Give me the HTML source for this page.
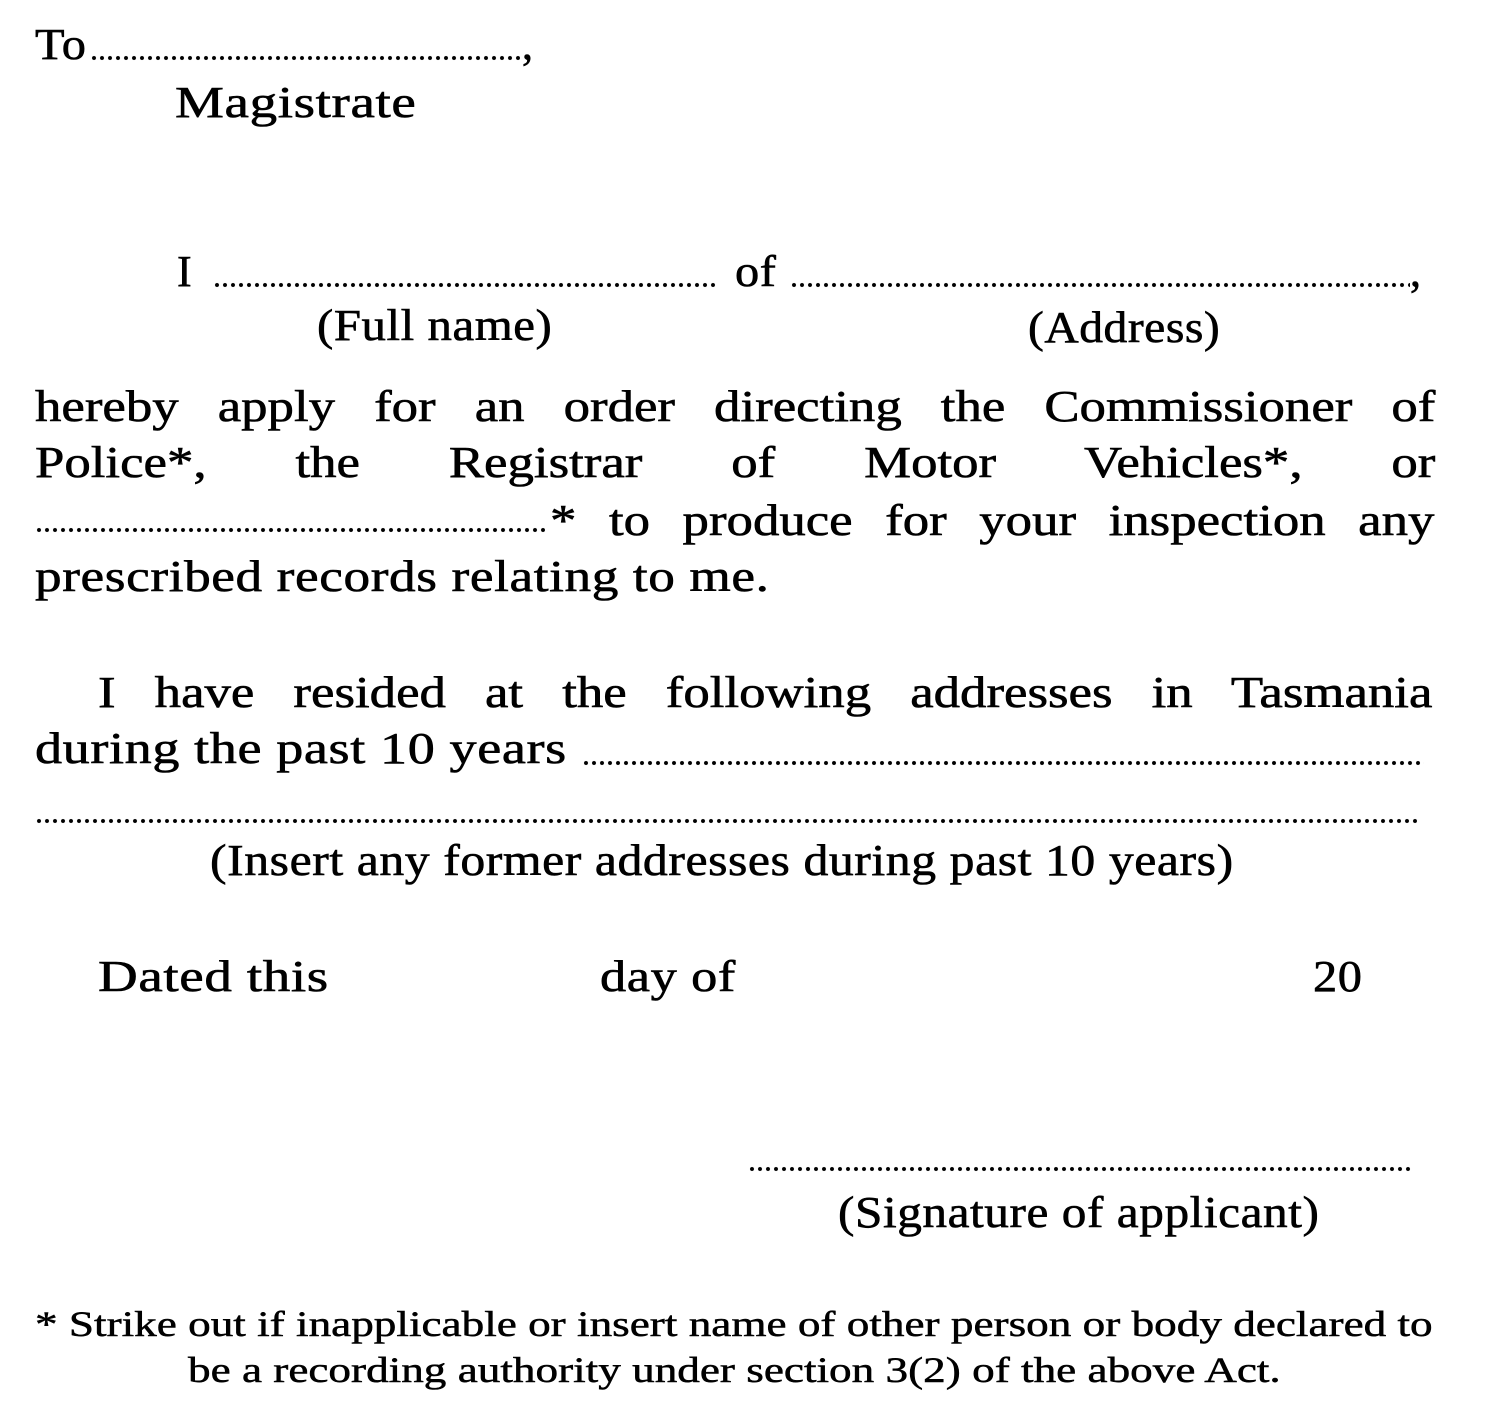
<!DOCTYPE html>
<html><head><meta charset="utf-8"><style>
html,body{margin:0;padding:0;background:#fff;}
body{width:1486px;height:1427px;position:relative;overflow:hidden;font-family:"Liberation Serif",serif;color:#000;}
.t{position:absolute;font-size:44px;line-height:44px;white-space:nowrap;letter-spacing:0.5px;transform-origin:0 0;-webkit-text-stroke:0.6px #000;}
.j{position:absolute;left:35px;width:1167px;font-size:44px;line-height:44px;text-align:justify;text-align-last:justify;-webkit-text-stroke:0.6px #000;transform:scaleX(1.2);transform-origin:0 0;}
.d{position:absolute;height:6px;background-image:radial-gradient(circle,#000 1.7px,transparent 2.3px);background-size:8px 6px;background-repeat:repeat-x;}
.f{position:absolute;left:35px;font-size:36px;line-height:36px;white-space:nowrap;transform-origin:0 0;-webkit-text-stroke:0.5px #000;}
</style></head><body>
<div class="t" style="left:35px;top:23px;transform:scaleX(1.1)">To</div>
<div class="d" style="left:90px;top:55px;width:430px"></div>
<div class="t" style="left:522px;top:23px">,</div>
<div class="t" style="left:175px;top:81px;transform:scaleX(1.25)">Magistrate</div>

<div class="t" style="left:177px;top:250px">I</div>
<div class="d" style="left:213px;top:282px;width:505px"></div>
<div class="t" style="left:735px;top:250px;transform:scaleX(1.1)">of</div>
<div class="d" style="left:790px;top:282px;width:620px"></div>
<div class="t" style="left:1410px;top:250px">,</div>
<div class="t" style="left:317px;top:304px;transform:scaleX(1.11)">(Full name)</div>
<div class="t" style="left:1028px;top:306px;transform:scaleX(1.08)">(Address)</div>

<div class="j" style="top:385px">hereby apply for an order directing the Commissioner of</div>
<div class="j" style="top:441px">Police*, the Registrar of Motor Vehicles*, or</div>
<div class="d" style="left:35px;top:527px;width:510px"></div>
<div class="j" style="top:499px;left:550px;width:737px">* to produce for your inspection any</div>
<div class="t" style="left:35px;top:555px;transform:scaleX(1.21)">prescribed records relating to me.</div>

<div class="j" style="top:671px;left:98px;width:1112px">I have resided at the following addresses in Tasmania</div>
<div class="t" style="left:35px;top:727px;transform:scaleX(1.23)">during the past 10 years</div>
<div class="d" style="left:582px;top:760px;width:842px"></div>
<div class="d" style="left:35px;top:818px;width:1382px"></div>
<div class="t" style="left:210px;top:839px;transform:scaleX(1.13)">(Insert any former addresses during past 10 years)</div>

<div class="t" style="left:98px;top:955px;transform:scaleX(1.25)">Dated this</div>
<div class="t" style="left:600px;top:955px;transform:scaleX(1.19)">day of</div>
<div class="t" style="left:1313px;top:955px;transform:scaleX(1.1)">20</div>

<div class="d" style="left:748px;top:1166px;width:664px"></div>
<div class="t" style="left:838px;top:1191px;transform:scaleX(1.12)">(Signature of applicant)</div>

<div class="f" style="left:35px;top:1306px;transform:scaleX(1.255)">* Strike out if inapplicable or insert name of other person or body declared to</div>
<div class="f" style="left:188px;top:1352px;transform:scaleX(1.255)">be a recording authority under section 3(2) of the above Act.</div>
</body></html>
